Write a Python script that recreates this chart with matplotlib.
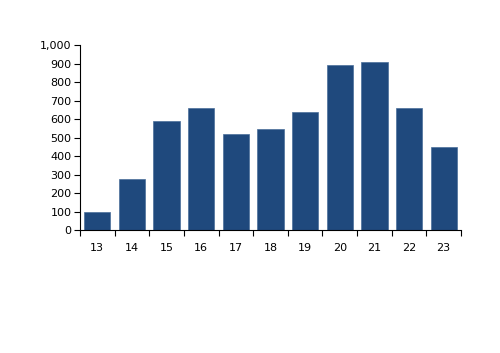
import matplotlib
matplotlib.use("Agg")
import matplotlib.pyplot as plt
from matplotlib.ticker import FuncFormatter, MultipleLocator, FixedLocator
import numpy as np

categories = ["13", "14", "15", "16", "17", "18", "19", "20", "21", "22", "23"]
values = [100, 275, 590, 660, 520, 545, 640, 895, 908, 660, 450]

fig = plt.figure(figsize=(5.0, 3.53), dpi=100)
ax = fig.add_axes([0.16, 0.3484, 0.762, 0.5233])

x = np.arange(len(categories))
ax.bar(x, values, width=0.76, color="#1F497D", edgecolor="#4A6E9A", linewidth=0.5, zorder=2)

ax.set_xlim(-0.5, len(categories) - 0.5)
ax.set_ylim(0, 1000)
ax.yaxis.set_major_locator(MultipleLocator(100))
ax.yaxis.set_major_formatter(FuncFormatter(lambda v, p: f"{int(v):,}"))

ax.set_xticks(x)
ax.set_xticklabels(categories)
ax.xaxis.set_minor_locator(FixedLocator(np.arange(-0.5, len(categories), 1.0)))
ax.tick_params(axis="x", which="major", length=0, pad=9, labelsize=8)
ax.tick_params(axis="x", which="minor", length=4, width=0.8, direction="out")
ax.tick_params(axis="y", which="major", length=4, width=0.8, direction="out", labelsize=8, pad=2)

for s in ["top", "right"]:
    ax.spines[s].set_visible(False)
for s in ["left", "bottom"]:
    ax.spines[s].set_linewidth(0.8)

fig.savefig("out.png", dpi=100)
